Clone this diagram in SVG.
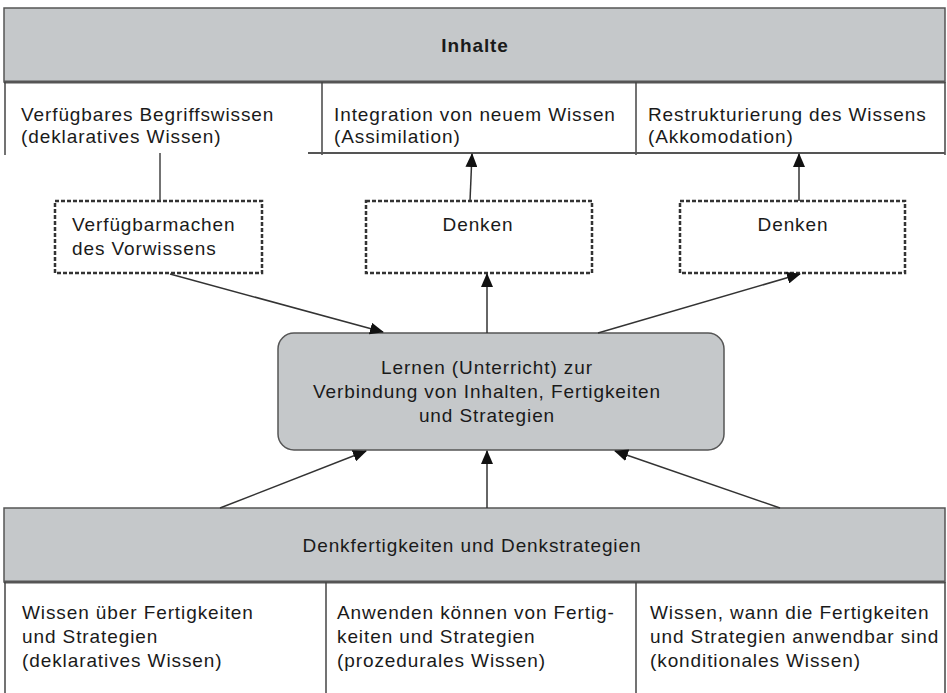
<svg xmlns="http://www.w3.org/2000/svg" width="947" height="693" viewBox="0 0 947 693">
<defs>
<marker id="ah" markerWidth="14" markerHeight="12" refX="13" refY="6" orient="auto" markerUnits="userSpaceOnUse">
<path d="M0,0 L14,6 L0,12 Z" fill="#111"/>
</marker>
<style>
.t{font-family:"Liberation Sans",Arial,sans-serif;font-size:19px;fill:#1a1a1a;letter-spacing:0.9px}
.b{font-weight:bold}
.band{fill:#c5c8ca;stroke:#555;stroke-width:1.5}
.ln{stroke:#444;stroke-width:1.5;fill:none}
.dash{fill:#fff;stroke:#333;stroke-width:2.5;stroke-dasharray:4 2}
.con{stroke:#333;stroke-width:1.5;fill:none;marker-end:url(#ah)}
.mid{text-anchor:middle}
</style>
</defs>
<rect width="947" height="693" fill="#fff"/>

<g id="inhalte">
<rect class="band" x="4" y="8" width="941" height="74"/>
<line x1="4" y1="82" x2="945" y2="82" stroke="#555" stroke-width="3"/>
<text class="t b mid" x="475" y="52">Inhalte</text>
</g>

<g id="inhalte-cells">
<line class="ln" x1="5" y1="82" x2="5" y2="155"/>
<line class="ln" x1="322" y1="82" x2="322" y2="155"/>
<line class="ln" x1="636" y1="82" x2="636" y2="155"/>
<line class="ln" x1="945" y1="82" x2="945" y2="155"/>
<line x1="308" y1="153" x2="945" y2="153" stroke="#555" stroke-width="2"/>
</g>
<g id="begriffswissen">
<text class="t" x="21" y="121">Verfügbares Begriffswissen</text>
<text class="t" x="21" y="143">(deklaratives Wissen)</text>
</g>
<g id="assimilation">
<text class="t" x="334" y="121">Integration von neuem Wissen</text>
<text class="t" x="334" y="143">(Assimilation)</text>
</g>
<g id="akkomodation">
<text class="t" x="648" y="121">Restrukturierung des Wissens</text>
<text class="t" x="648" y="143">(Akkomodation)</text>
</g>

<g id="vorwissen">
<rect class="dash" x="55" y="201" width="207" height="72"/>
<text class="t" x="72" y="231">Verfügbarmachen</text>
<text class="t" x="72" y="255">des Vorwissens</text>
</g>
<g id="denken1">
<rect class="dash" x="366" y="201" width="226" height="72"/>
<text class="t mid" x="478" y="231">Denken</text>
</g>
<g id="denken2">
<rect class="dash" x="680" y="201" width="225" height="72"/>
<text class="t mid" x="793" y="231">Denken</text>
</g>

<g id="lernen">
<rect x="278" y="333" width="446" height="117" rx="16" fill="#c5c8ca" stroke="#555" stroke-width="1.5"/>
<text class="t mid" x="487" y="374">Lernen (Unterricht) zur</text>
<text class="t mid" x="487" y="398">Verbindung von Inhalten, Fertigkeiten</text>
<text class="t mid" x="487" y="422">und Strategien</text>
</g>

<g id="denkfertigkeiten">
<rect class="band" x="4" y="508" width="941" height="74"/>
<line x1="4" y1="582" x2="945" y2="582" stroke="#555" stroke-width="3"/>
<text class="t mid" x="472" y="552">Denkfertigkeiten und Denkstrategien</text>
</g>
<g id="denk-cells">
<line class="ln" x1="5" y1="582" x2="5" y2="693"/>
<line class="ln" x1="326" y1="582" x2="326" y2="693"/>
<line class="ln" x1="636" y1="582" x2="636" y2="693"/>
<line class="ln" x1="945" y1="582" x2="945" y2="693"/>
</g>
<g id="deklarativ">
<text class="t" x="22" y="619">Wissen über Fertigkeiten</text>
<text class="t" x="22" y="643">und Strategien</text>
<text class="t" x="22" y="667">(deklaratives Wissen)</text>
</g>
<g id="prozedural">
<text class="t" x="337" y="619">Anwenden können von Fertig-</text>
<text class="t" x="337" y="643">keiten und Strategien</text>
<text class="t" x="337" y="667">(prozedurales Wissen)</text>
</g>
<g id="konditional">
<text class="t" x="650" y="619">Wissen, wann die Fertigkeiten</text>
<text class="t" x="650" y="643">und Strategien anwendbar sind</text>
<text class="t" x="650" y="667">(konditionales Wissen)</text>
</g>

<g id="connectors">
<line class="ln" x1="160" y1="153" x2="160" y2="201"/>
<line class="con" x1="470" y1="201" x2="472" y2="154"/>
<line class="con" x1="799" y1="201" x2="799" y2="154"/>
<line class="con" x1="170" y1="274" x2="383" y2="332"/>
<line class="con" x1="487" y1="333" x2="487" y2="274"/>
<line class="con" x1="598" y1="333" x2="800" y2="274"/>
<line class="con" x1="220" y1="508" x2="366" y2="451"/>
<line class="con" x1="487" y1="508" x2="487" y2="451"/>
<line class="con" x1="780" y1="508" x2="615" y2="451"/>
</g>
</svg>
